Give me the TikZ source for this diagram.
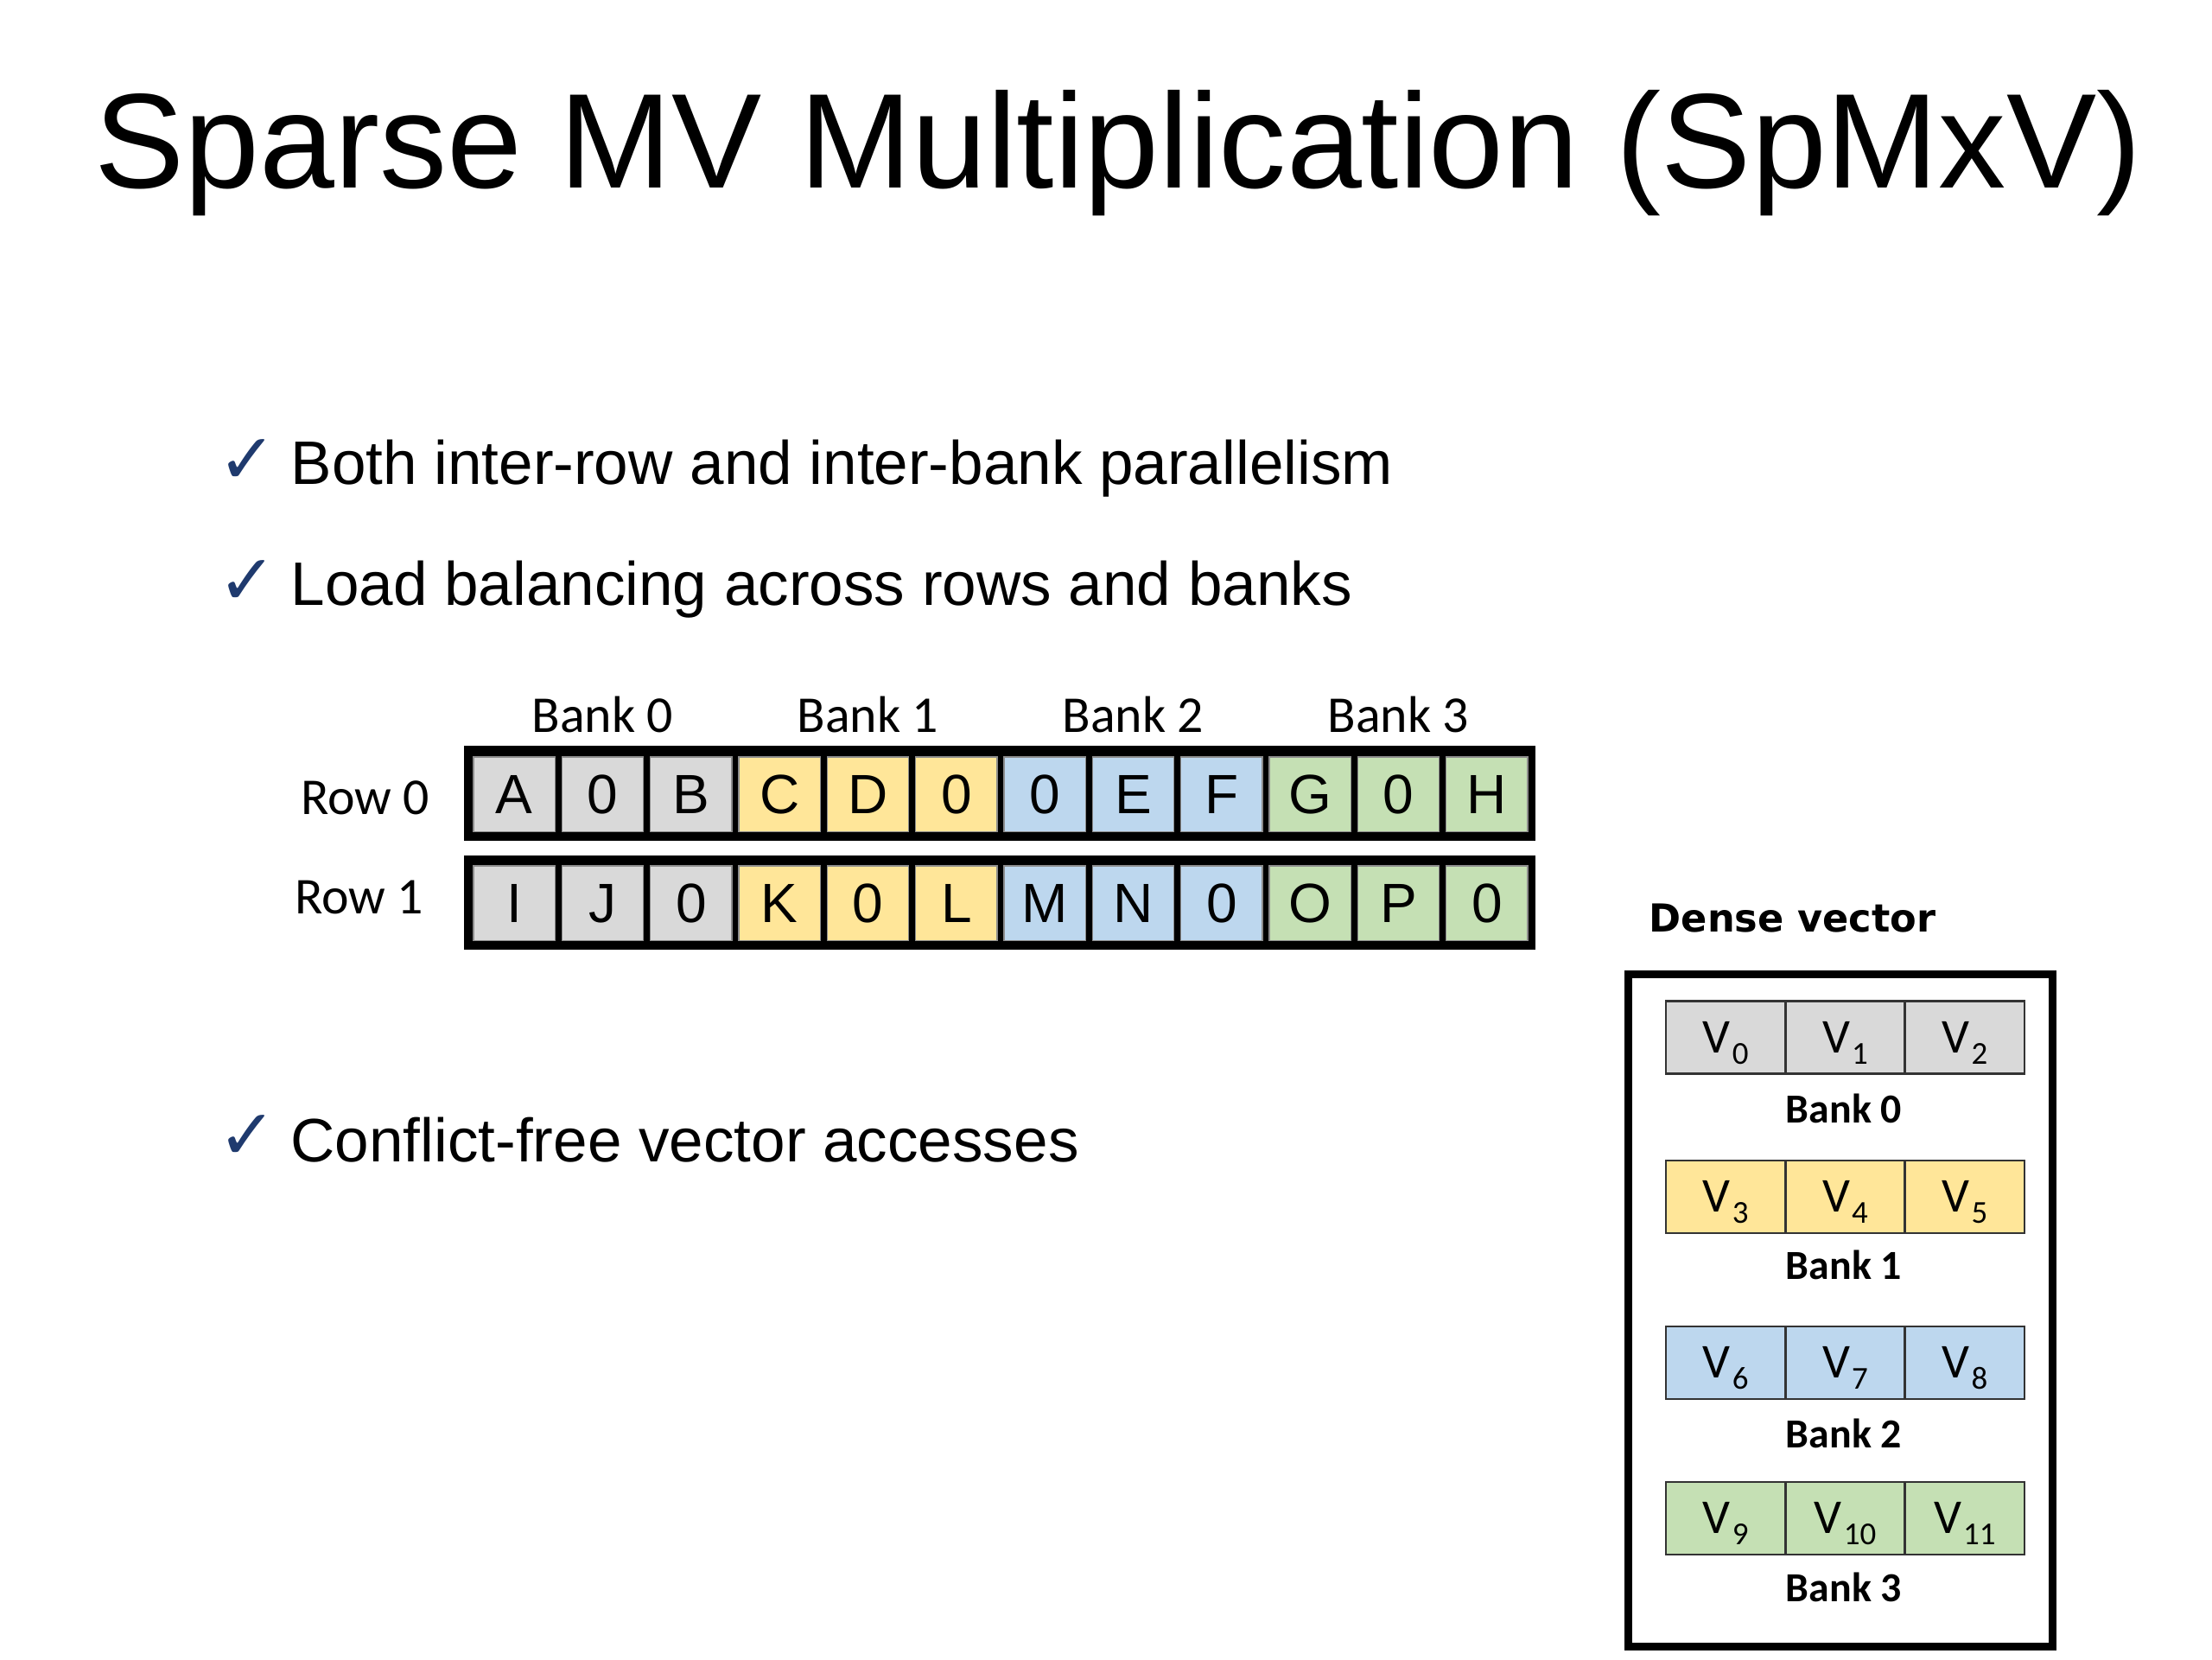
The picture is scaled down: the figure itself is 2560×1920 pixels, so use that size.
\documentclass[tikz,border=0pt]{standalone}
\usepackage{fontspec}
\setmainfont{Liberation Sans}
\newfontfamily\calib{Carlito}
\newfontfamily\dejav{DejaVu Sans}
\definecolor{cgray}{HTML}{D9D9D9}
\definecolor{cyell}{HTML}{FFE699}
\definecolor{cblue}{HTML}{BDD7EE}
\definecolor{cgreen}{HTML}{C5E0B4}
\definecolor{navy}{HTML}{1F3A6E}
\tikzset{
  titletext/.style={anchor=base west, inner sep=0pt, font=\fontsize{44.4}{50}\selectfont},
  bullettext/.style={anchor=base west, inner sep=0pt, font=\fontsize{20.2}{22}\selectfont},
  checkmark/.style={inner sep=0pt, text=navy, font=\dejav\fontsize{23}{23}\selectfont},
  rowbar/.style={fill=black, inner sep=0pt, minimum width=12.4cm},
  mcell/.style={draw=black!45, line width=0.3pt, inner sep=0pt, minimum width=0.943cm,
    minimum height=0.86cm, text height=13pt, text depth=0pt, font=\fontsize{18.2}{20}\selectfont},
  calilabel/.style={anchor=base, inner sep=0pt, font=\calib\fontsize{17}{19}\selectfont},
  panelbox/.style={draw=black, line width=2.56pt, inner sep=0pt, minimum width=4.91cm, minimum height=7.78cm},
  vcell/.style={draw=black!80, line width=0.8pt, inner sep=0pt, minimum width=1.383cm,
    minimum height=0.84cm, text height=10.2pt, text depth=0pt, font=\calib\fontsize{16}{17}\selectfont},
  banklabel/.style={anchor=base, inner sep=0pt, font=\calib\bfseries\fontsize{13.6}{15}\selectfont},
  densetitle/.style={anchor=base west, inner sep=0pt, font=\dejav\bfseries\fontsize{12.7}{14}\selectfont}
}
\newcommand{\vsub}[1]{V\kern0.6pt\raisebox{-3.6pt}{\fontsize{10.5}{10.5}\selectfont #1}}
\begin{document}
\begin{tikzpicture}[x=0.01cm,y=-0.01cm]
\useasboundingbox[fill=white] (0,0) rectangle (2560,1920);

% title
\node[titletext] (title) at (109,217) {Sparse MV Multiplication (SpMxV)};

% bullets
\node[checkmark] (chk1) at (286,534) {✓};
\node[bullettext] (b1) at (336,560) {Both inter-row and inter-bank parallelism};
\node[checkmark] (chk2) at (286,674) {✓};
\node[bullettext] (b2) at (336,700) {Load balancing across rows and banks};
\node[checkmark] (chk3) at (286,1316) {✓};
\node[bullettext] (b3) at (336,1344) {Conflict-free vector accesses};

% bank labels above the rows
\foreach \b/\cx in {0/697.5,1/1004.5,2/1311.5,3/1618.5}{
  \node[calilabel] (bank\b) at (\cx,847) {Bank \b};
}
% row labels
\node[calilabel, anchor=base east] (rowlab0) at (498,942) {Row 0};
\node[calilabel, anchor=base east] (rowlab1) at (491,1057) {Row 1};

% row bars
\node[rowbar, minimum height=1.10cm] (bar0) at (1157,918) {};
\node[rowbar, minimum height=1.09cm] (bar1) at (1157,1044.5) {};

% row cells
\foreach \t [count=\i from 0] in {A,0,B,C,D,0,0,E,F,G,0,H}{
  \pgfmathtruncatemacro{\g}{int(\i/3)}
  \ifcase\g \def\cc{cgray}\or \def\cc{cyell}\or \def\cc{cblue}\or \def\cc{cgreen}\fi
  \node[mcell, fill=\cc] (r0c\i) at ({595.17+102.33*\i},919) {\t};
}
\foreach \t [count=\i from 0] in {I,J,0,K,0,L,M,N,0,O,P,0}{
  \pgfmathtruncatemacro{\g}{int(\i/3)}
  \ifcase\g \def\cc{cgray}\or \def\cc{cyell}\or \def\cc{cblue}\or \def\cc{cgreen}\fi
  \node[mcell, fill=\cc] (r1c\i) at ({595.17+102.33*\i},1045) {\t};
}

% dense vector panel
\node[densetitle] (dtitle) at (1908,1078) {Dense vector};
\node[panelbox] (panel) at (2130,1516.5) {};

\foreach \b/\cy/\base/\cc in {0/1200.5/1299/cgray,1/1385/1480/cyell,2/1577/1675/cblue,3/1757/1853/cgreen}{
  \foreach \k in {0,1,2}{
    \pgfmathtruncatemacro{\n}{3*\b+\k}
    \node[vcell, fill=\cc] (v\n) at ({1997.2+138.33*\k},\cy) {\vsub{\n}};
  }
  \node[banklabel] (vbank\b) at (2134,\base) {Bank \b};
}
\end{tikzpicture}
\end{document}
